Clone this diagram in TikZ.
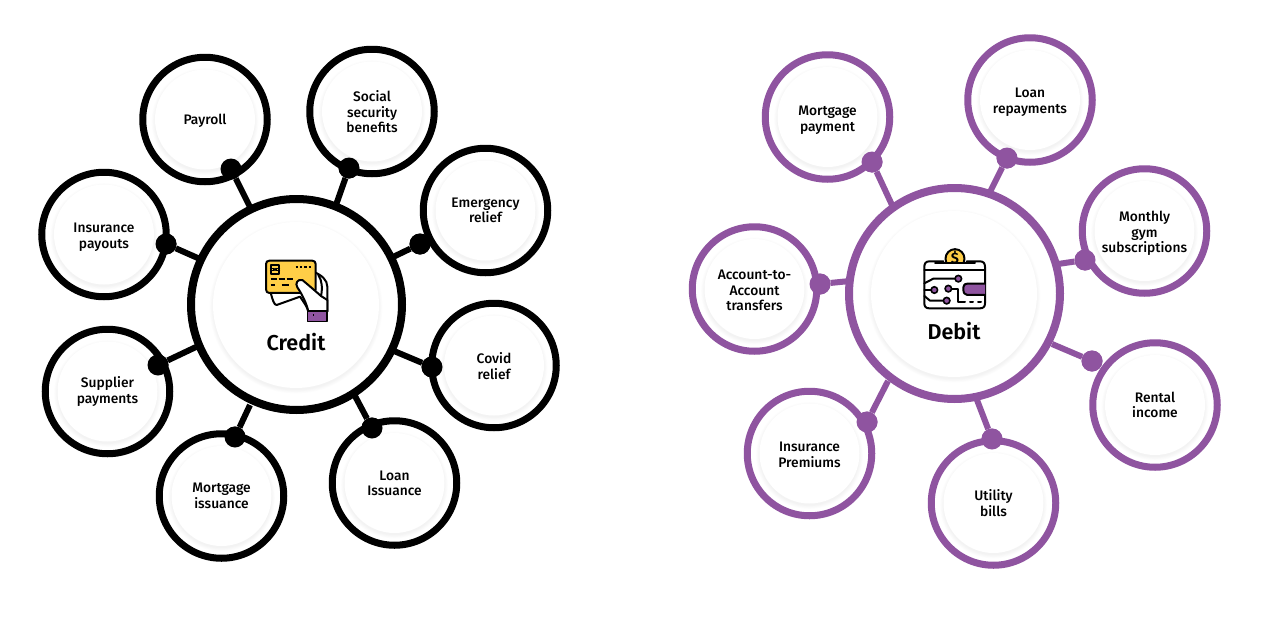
\documentclass[tikz,border=0pt]{standalone}
\usepackage{fontspec}
\setmainfont{Fira Sans Medium}[BoldFont={Fira Sans SemiBold}]
\definecolor{debitpurple}{HTML}{8F54A0}
\definecolor{cardyellow}{HTML}{FFCE47}
\tikzset{
  x=1pt,y=-1pt,
  bigring/.style={circle,draw=#1,line width=8pt,fill=white,minimum size=211pt,inner sep=0pt},
  smallring/.style={circle,draw=#1,line width=7pt,fill=white,minimum size=124.5pt,inner sep=0pt},
  labeltext/.style={align=center,font=\fontsize{13.8}{15.6}\selectfont,text=black,inner sep=0pt},
  hubtext/.style={font=\fontsize{21.5}{24}\bfseries\selectfont,text=black,inner sep=0pt},
  knob/.style={circle,fill=#1,minimum size=21pt,inner sep=0pt},
  spoke/.style={draw=#1,line width=6pt},
  icon/.style={line width=2pt,draw=black,line join=round,line cap=round},
}
\newcommand{\softshadow}[3]{% x, y, radius
  \foreach \d in {0,0.7,...,3.5}{
    \fill[black,opacity=0.006] (#1,#2+2) circle[radius=#3+\d pt];
  }
  \fill[white] (#1,#2) circle[radius=#3 pt];
}
\newcommand{\sat}[6]{% name, x, y, label, label y, colour
  \node[smallring=#6] (#1) at (#2,#3) {};
  \softshadow{#2}{#3}{50}
  \node[labeltext] (#1t) at (#2,#5) {#4};
}
\begin{document}
\begin{tikzpicture}
\useasboundingbox (0,0) rectangle (1270,632);
\fill[white] (0,0) rectangle (1270,632);

% ---------- Credit ----------
\foreach \k/\x/\y/\hx/\hy in {a/231/169/250/207,b/349/168/336/205,c/420/244/393/257,d/432/367/394/351,e/372/428/355/396,f/235/437/250/405,g/158/365/196/347,h/166/244/200/259}{
  \coordinate (crh\k) at (\hx,\hy);
  \node[knob=black] (cr\k) at (\x,\y) {};
  \draw[spoke=black] (crh\k) -- (cr\k);
}
\sat{c1}{205}{119.5}{Payroll}{121}{black}
\sat{c2}{372}{111.5}{Social\\security\\benefits}{112}{black}
\sat{c3}{485.5}{210.5}{Emergency\\relief}{210.5}{black}
\sat{c4}{494}{365.5}{Covid\\relief}{366}{black}
\sat{c5}{394.5}{483}{Loan\\Issuance}{483.5}{black}
\sat{c6}{221.5}{496}{Mortgage\\issuance}{496}{black}
\sat{c7}{107.5}{391.5}{Supplier\\payments}{391.5}{black}
\sat{c8}{104}{234.5}{Insurance\\payouts}{237.5}{black}
\foreach \k/\x/\y in {a/231/169,b/349/168,c/420/244,d/432/367,e/372/428,f/235/437,g/158/365,h/166/244}{
  \node[knob=black] at (\x,\y) {};
}
\node[bigring=black] (credit) at (296.5,304.5) {};
\softshadow{296}{305}{83}
\node[hubtext] (creditt) at (296,342) {Credit};

% credit icon (coordinates follow a 3x crop at 250,250)
\begin{scope}[shift={(250,250)},x=0.3333pt,y=-0.3333pt]
  \draw[icon,fill=white] (190,65) .. controls (215,75) and (232,90) .. (232,110) -- (232,185) -- (175,185) .. controls (172,170) and (160,155) .. (150,140) -- (80,165) .. controls (72,165) and (68,150) .. (62,128) -- (190,100) -- cycle;
  \draw[icon,fill=cardyellow] (58,32) -- (187,32) .. controls (193,32) and (197,36) .. (197,42) -- (197,118) .. controls (197,125) and (193,129) .. (187,129) -- (58,129) .. controls (52,129) and (48,125) .. (48,118) -- (48,42) .. controls (48,36) and (52,32) .. (58,32) -- cycle;
  \draw[icon] (62,46) rectangle (88,71);
  \draw[icon,line width=1.4pt] (62,55) -- (72,55) -- (72,62) -- (62,62) (88,55) -- (78,55) -- (78,62) -- (88,62);
  \draw[icon,dash pattern=on 2.4pt off 1.9pt,line cap=butt,line width=2.4pt] (137,51) -- (182,51);
  \draw[icon,dash pattern=on 6.4pt off 1.6pt,line cap=butt] (62,88) -- (132,88);
  \draw[icon,line cap=butt] (62,105) -- (76,105) (95,105) -- (116,105);
  \draw[icon,fill=white] (142,112) .. controls (134,100) and (144,86) .. (157,90) .. controls (175,105) and (195,122) .. (213,138) -- (232,150) -- (232,185) -- (175,185) .. controls (172,165) and (155,130) .. (142,112) -- cycle;
  \draw[icon] (205,75) .. controls (216,90) and (218,115) .. (213,138);
  \draw[icon,fill=debitpurple,line width=1.6pt] (173,183) rectangle (231,215);
  \fill (188,192) rectangle (193,197);
\end{scope}

% ---------- Debit ----------
\foreach \k/\x/\y/\hx/\hy in {a/872/162/892/205,b/1007/158/990/192,c/1085/260/1058/264,d/1092/361/1052/344,e/992/439/977/400,f/867/422/888/381,g/820/284/850/281}{
  \coordinate (dbh\k) at (\hx,\hy);
  \node[knob=debitpurple] (db\k) at (\x,\y) {};
  \draw[spoke=debitpurple] (dbh\k) -- (db\k);
}
\sat{d1}{827.5}{117}{Mortgage\\payment}{120.5}{debitpurple}
\sat{d2}{1030}{100}{Loan\\repayments}{102.5}{debitpurple}
\sat{d3}{1144.5}{231}{Monthly\\gym\\subscriptions}{233.5}{debitpurple}
\sat{d4}{1155}{405}{Rental\\income}{405}{debitpurple}
\sat{d5}{993.5}{503}{Utility\\bills}{503}{debitpurple}
\sat{d6}{809.5}{453.5}{Insurance\\Premiums}{455}{debitpurple}
\sat{d7}{754.5}{289}{Account-to-\\Account\\transfers}{290.5}{debitpurple}
\foreach \k/\x/\y in {a/872/162,b/1007/158,c/1085/260,d/1092/361,e/992/439,f/867/422,g/820/284}{
  \node[knob=debitpurple] at (\x,\y) {};
}
\node[bigring=debitpurple] (debit) at (954.5,293.5) {};
\softshadow{954}{294}{83}
\node[hubtext] (debitt) at (954,331) {Debit};

% debit icon (coordinates follow a 3x crop at 910,240)
\begin{scope}[shift={(910,240)},x=0.3333pt,y=-0.3333pt]
  \draw[icon,fill=cardyellow] (135,56) circle[radius=9.5pt];
  \node[font=\fontsize{15}{15}\bfseries\selectfont,inner sep=0pt] (dollar) at (135,55) {\$};
  \fill[white] (42,67) rectangle (226,205);
  \draw[icon] (100,64) -- (58,64) .. controls (48,64) and (43,70) .. (43,80) -- (43,190) .. controls (43,200) and (48,205) .. (58,205) -- (210,205) .. controls (220,205) and (225,200) .. (225,190) -- (225,80) .. controls (225,70) and (220,64) .. (210,64) -- (170,64);
  \draw[icon] (75,69) -- (195,69);
  \draw[icon] (43,90) -- (225,90);
  \draw[icon,fill=debitpurple] (225,131) -- (172,131) .. controls (162,131) and (160,138) .. (160,148) .. controls (160,158) and (164,165) .. (172,165) -- (225,165);
  \draw[icon] (43,130) -- (70,116) -- (135,116);
  \draw[icon] (43,150) -- (68,150);
  \draw[icon] (43,168) -- (60,182) -- (100,182);
  \draw[icon] (125,146) -- (145,146) -- (145,185) -- (165,185);
  \draw[icon,dash pattern=on 3pt off 5pt] (180,185) -- (222,185);
  \foreach \n/\px/\py in {p1/145/116,p2/73/150,p3/115/146,p4/110/182}{
    \node[circle,draw=black,fill=debitpurple,line width=1.6pt,minimum size=6.5pt,inner sep=0pt] (\n) at (\px,\py) {};
  }
\end{scope}
\end{tikzpicture}
\end{document}
